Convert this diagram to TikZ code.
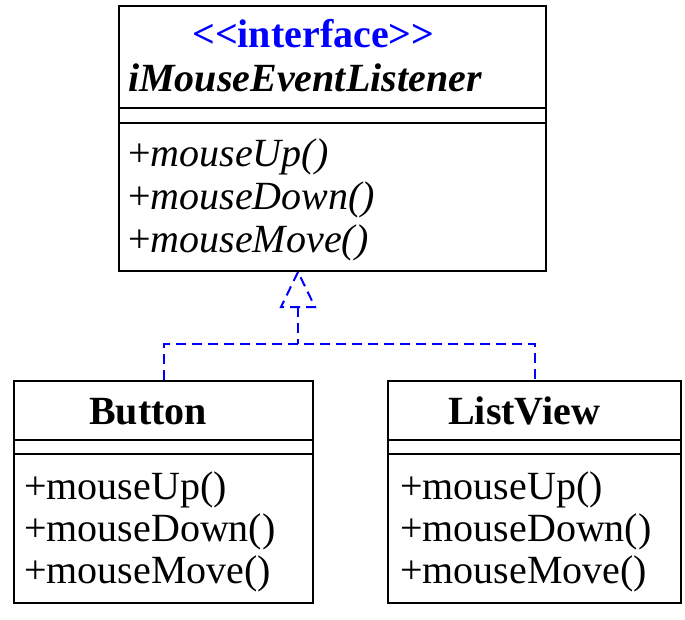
\documentclass[tikz,border=0pt]{standalone}
\usepackage{fontspec}
\setmainfont{Liberation Serif}
\begin{document}
\begin{tikzpicture}[x=1pt,y=-1pt,
  umlbox/.style={draw, line width=2pt, inner sep=0pt},
  txt/.style={anchor=base west, inner sep=0pt, font=\fontsize{40}{44}\selectfont},
  sep/.style={line width=2pt},
  dep/.style={draw=blue, line width=2pt, dash pattern=on 10pt off 6pt}]
\useasboundingbox (0,0) rectangle (685,619);
% interface box
\node[umlbox, minimum width=427pt, minimum height=265pt] (iface) at (332.5,138.5) {};
\draw[sep] (119,108) -- (546,108);
\draw[sep] (119,123) -- (546,123);
\node[txt, text=blue, font=\fontsize{40}{44}\selectfont\bfseries] (stereo) at (192,47) {<\kern0pt<\kern0pt interface>\kern0pt>};
\node[txt, font=\fontsize{40}{44}\selectfont\bfseries\itshape] (iname) at (128,91) {iMouseEventListener};
\node[txt] (im1) at (128,166) {+\textit{mouseUp()}};
\node[txt] (im2) at (128,209) {+\textit{mouseDown()}};
\node[txt] (im3) at (128,252) {+\textit{mouseMove()}};
% Button box
\node[umlbox, minimum width=299pt, minimum height=222pt] (btn) at (163.5,492) {};
\draw[sep] (14,440) -- (313,440);
\draw[sep] (14,454) -- (313,454);
\node[txt, font=\fontsize{40}{44}\selectfont\bfseries] (bname) at (89,424) {Button};
\node[txt] (bm1) at (24,499) {+mouseUp()};
\node[txt] (bm2) at (24,541) {+mouseDown()};
\node[txt] (bm3) at (24,583) {+mouseMove()};
% ListView box
\node[umlbox, minimum width=293pt, minimum height=222pt] (lv) at (534.5,492) {};
\draw[sep] (388,440) -- (681,440);
\draw[sep] (388,454) -- (681,454);
\node[txt, font=\fontsize{40}{44}\selectfont\bfseries] (lname) at (448,424) {ListView};
\node[txt] (lm1) at (400,499) {+mouseUp()};
\node[txt] (lm2) at (400,541) {+mouseDown()};
\node[txt] (lm3) at (400,583) {+mouseMove()};
% realization connector
\coordinate (tip) at (298,272);
\coordinate (tbase) at (298,307);
\coordinate (join) at (298,344);
\draw[dep] (tip) -- (281,307) -- (315,307) -- cycle;
\draw[dep] (tbase) -- (join);
\draw[dep] (btn.north) |- (join) -| (lv.north);
\end{tikzpicture}
\end{document}
